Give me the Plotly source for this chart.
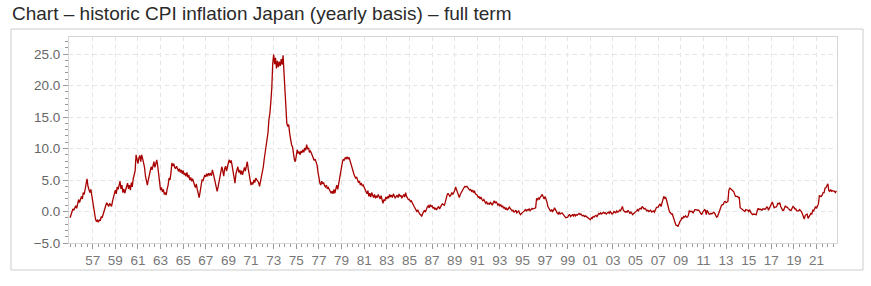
import pandas as pd
import plotly.graph_objects as go

# Monthly CPI inflation Japan (yearly basis), %, starting January 1956
start_month = "1956-01-01"

cpi_1950s = [
    -1.0, -0.6, -0.2, 0.4, 0.2, 0.6, 0.9, 0.5, 1.2, 1.9, 1.4, 2.0,      # 1956
    2.4, 2.0, 3.0, 2.7, 3.8, 4.1, 5.2, 4.0, 3.4, 3.0, 3.5, 2.4,         # 1957
    1.5, 0.6, -0.3, -1.2, -1.6, -1.4, -1.7, -1.3, -1.5, -0.8, -1.0, -0.4,  # 1958
    0.2, 0.6, 1.0, 1.4, 1.1, 0.8, 1.3, 0.9, 0.8, 1.6, 2.2, 3.0,         # 1959
]
cpi_1960s = [
    3.4, 2.8, 3.9, 3.5, 4.4, 4.8, 3.6, 4.2, 3.0, 3.6, 2.9, 3.8,         # 1960
    4.0, 4.5, 3.6, 4.2, 3.4, 4.6, 3.9, 5.2, 6.1, 6.4, 9.0, 8.2,         # 1961
    7.6, 8.5, 8.9, 7.9, 9.0, 8.4, 7.7, 7.0, 5.6, 4.5, 4.2, 5.0,         # 1962
    5.8, 6.6, 7.1, 6.6, 7.4, 7.9, 7.0, 7.6, 8.2, 7.2, 6.1, 5.2,         # 1963
    3.4, 3.8, 3.1, 3.5, 2.7, 3.0, 2.6, 3.6, 4.2, 5.3, 5.0, 6.1,         # 1964
    7.7, 7.2, 7.6, 7.0, 6.8, 7.2, 6.6, 6.4, 6.8, 6.2, 6.6, 6.0,         # 1965
    6.5, 5.8, 6.1, 5.6, 6.2, 5.4, 5.8, 5.0, 5.4, 4.8, 5.2, 4.5,         # 1966
    4.2, 3.8, 4.4, 3.5, 3.0, 2.2, 3.1, 4.2, 5.0, 4.9, 5.6, 5.8,         # 1967
    5.5, 6.0, 5.6, 6.1, 5.8, 6.0, 5.7, 6.6, 6.0, 5.2, 4.6, 3.6,         # 1968
    3.2, 3.9, 4.8, 5.6, 6.4, 7.1, 6.5, 5.6, 6.8, 7.2, 6.4, 7.4,         # 1969
]
cpi_1970s = [
    7.8, 8.2, 7.7, 8.1, 7.2, 6.4, 5.6, 4.5, 6.0, 6.8, 7.1, 6.2,         # 1970
    6.6, 5.9, 6.5, 5.8, 6.7, 7.0, 6.4, 7.2, 7.9, 6.8, 5.9, 5.0,         # 1971
    4.2, 4.6, 4.3, 5.0, 4.6, 5.3, 5.0, 4.8, 4.6, 4.0, 4.7, 5.4,         # 1972
    6.2, 7.1, 8.3, 9.4, 10.8, 11.2, 12.5, 14.6, 15.6, 17.4, 19.6, 23.5,  # 1973
    24.9, 23.4, 24.4, 22.7, 23.9, 22.9, 23.8, 23.1, 24.2, 23.3, 24.8, 22.0,  # 1974
    19.6, 16.5, 14.0, 13.5, 13.8, 12.4, 11.0, 10.6, 10.3, 9.0, 8.2, 7.9,  # 1975
    8.6, 9.8, 9.2, 9.5, 9.0, 9.6, 9.3, 9.8, 9.4, 10.1, 9.7, 10.6,       # 1976
    9.9, 10.1, 9.4, 9.6, 9.3, 8.8, 8.6, 8.1, 8.3, 7.7, 7.4, 6.3,        # 1977
    4.9, 4.5, 4.2, 4.8, 4.4, 4.6, 4.1, 3.9, 4.2, 3.6, 3.8, 3.4,         # 1978
    3.1, 2.9, 3.2, 2.8, 3.5, 2.9, 3.6, 4.2, 3.5, 4.4, 5.2, 6.5,         # 1979
]
cpi_1980s = [
    7.7, 7.9, 8.3, 8.1, 8.6, 8.4, 8.7, 8.3, 8.6, 8.0, 7.6, 7.1,         # 1980
    6.6, 6.0, 5.6, 5.3, 5.5, 4.9, 4.6, 4.8, 4.2, 4.5, 4.1, 4.2,         # 1981
    3.8, 3.5, 3.2, 2.8, 3.3, 2.4, 2.9, 2.3, 3.0, 2.6, 2.2, 2.7,         # 1982
    2.1, 2.5, 2.2, 2.7, 2.4, 2.0, 2.5, 1.8, 1.3, 1.9, 1.7, 2.3,         # 1983
    2.0, 2.4, 2.1, 2.7, 2.3, 2.6, 2.2, 2.8, 2.4, 2.1, 2.4, 2.6,         # 1984
    2.2, 2.8, 2.4, 2.6, 2.1, 2.5, 2.7, 2.3, 3.0, 2.4, 2.0, 1.9,         # 1985
    1.9, 1.6, 1.7, 1.2, 1.1, 0.8, 0.6, 0.3, 0.0, 0.2, -0.2, -0.4,       # 1986
    -0.5, -0.8, -0.4, 0.0, 0.2, -0.1, 0.4, 0.7, 0.9, 0.6, 1.1, 0.8,     # 1987
    0.9, 0.5, 0.7, 0.3, 0.5, 0.3, 0.6, 0.8, 0.4, 0.9, 1.0, 1.2,         # 1988
    1.1, 1.0, 1.4, 2.3, 2.6, 2.9, 2.7, 2.4, 2.6, 3.0, 2.7, 2.9,         # 1989
]
cpi_1990s = [
    3.3, 3.9, 3.5, 3.1, 2.6, 2.2, 2.7, 3.0, 3.3, 3.7, 3.8, 4.0,         # 1990
    3.9, 4.0, 3.7, 3.6, 3.4, 3.5, 3.2, 3.4, 3.0, 3.3, 2.8, 2.7,         # 1991
    2.6, 2.2, 2.4, 2.0, 2.3, 1.9, 1.7, 1.9, 1.6, 1.3, 1.5, 1.2,         # 1992
    1.3, 1.1, 1.5, 1.2, 1.0, 1.4, 1.7, 1.3, 1.6, 1.3, 1.0, 1.2,         # 1993
    0.9, 1.1, 0.7, 0.9, 0.5, 0.7, 0.3, 0.6, 0.2, 0.4, 0.7, 0.5,         # 1994
    0.3, 0.1, 0.2, -0.1, 0.0, 0.2, -0.2, -0.1, 0.1, -0.3, -0.5, -0.3,   # 1995
    -0.2, 0.0, 0.1, 0.3, 0.1, 0.3, 0.2, 0.4, 0.1, 0.3, 0.5, 0.4,        # 1996
    0.5, 0.6, 0.6, 2.1, 1.8, 2.2, 2.0, 2.3, 2.5, 2.7, 2.3, 2.0,         # 1997
    2.4, 2.0, 1.5, 0.8, 0.5, 0.3, 0.0, 0.3, 0.0, 0.2, 0.6, 0.3,         # 1998
    -0.1, -0.3, -0.4, -0.1, -0.4, -0.3, -0.2, -0.4, -0.7, -0.8, -1.0, -1.0,  # 1999
]
cpi_2000s = [
    -0.9, -0.6, -0.5, -0.8, -0.6, -0.5, -0.7, -0.4, -0.7, -0.5, -0.6, -0.4,  # 2000
    -0.3, -0.5, -0.4, -0.6, -0.7, -0.6, -0.8, -0.7, -0.8, -0.9, -1.0, -1.2,  # 2001
    -1.3, -1.0, -1.1, -0.8, -0.9, -0.7, -0.6, -0.8, -0.5, -0.3, -0.4, -0.2,  # 2002
    -0.4, -0.2, -0.1, -0.3, -0.2, -0.4, -0.2, -0.1, -0.3, 0.0, -0.2, -0.4,   # 2003
    -0.3, 0.0, -0.1, -0.2, 0.1, -0.1, 0.0, 0.2, 0.1, 0.5, 0.8, 0.2,          # 2004
    0.1, -0.1, 0.0, -0.1, 0.2, -0.2, -0.3, -0.1, -0.3, -0.5, -0.3, -0.2,     # 2005
    -0.1, 0.1, 0.3, 0.1, 0.4, 0.5, 0.4, 0.8, 0.6, 0.4, 0.5, 0.3,             # 2006
    0.1, 0.2, 0.0, 0.1, 0.2, -0.1, 0.0, 0.1, -0.1, 0.3, 0.6, 0.7,            # 2007
    0.7, 1.0, 1.2, 0.8, 1.3, 2.0, 2.4, 2.1, 2.2, 1.7, 1.1, 0.4,              # 2008
    -0.1, -0.2, -0.4, -0.4, -1.0, -1.3, -1.8, -2.2, -2.2, -2.4, -1.8, -1.6,  # 2009
]
cpi_2010s = [
    -1.4, -1.0, -1.1, -0.8, -0.9, -0.7, -0.9, -0.9, -0.6, 0.1, 0.0, 0.0,  # 2010
    0.0, -0.2, 0.0, 0.3, 0.3, 0.2, 0.2, 0.2, 0.0, -0.2, -0.5, -0.2,       # 2011
    0.1, 0.3, 0.2, -0.5, 0.2, -0.2, -0.4, -0.4, -0.3, -0.4, -0.2, -0.1,   # 2012
    -0.3, -0.7, -0.9, -0.8, -0.3, 0.2, 0.7, 0.9, 1.1, 1.1, 1.5, 1.6,      # 2013
    1.4, 1.5, 1.6, 3.4, 3.7, 3.6, 3.4, 3.3, 3.2, 2.9, 2.4, 2.4,           # 2014
    2.4, 2.2, 2.3, 0.6, 0.5, 0.4, 0.2, 0.2, 0.0, 0.3, 0.3, 0.2,           # 2015
    0.0, 0.3, -0.1, -0.3, -0.5, -0.4, -0.4, -0.5, -0.5, 0.1, 0.5, 0.3,    # 2016
    0.4, 0.3, 0.2, 0.4, 0.4, 0.4, 0.4, 0.7, 0.7, 0.2, 0.6, 1.0,           # 2017
    1.4, 1.5, 1.1, 0.6, 0.7, 0.7, 0.9, 1.3, 1.2, 1.4, 0.8, 0.3,           # 2018
    0.2, 0.2, 0.5, 0.9, 0.7, 0.7, 0.5, 0.3, 0.2, 0.2, 0.5, 0.8,           # 2019
]
cpi_2020s = [
    0.7, 0.4, 0.4, 0.1, 0.1, 0.1, 0.3, 0.2, 0.0, -0.4, -0.9, -1.2,        # 2020
    -0.6, -0.5, -0.4, -1.1, -0.8, -0.5, -0.3, -0.4, 0.2, 0.1, 0.6, 0.8,   # 2021
    0.5, 0.9, 1.2, 2.5, 2.5, 2.4, 2.6, 3.0, 3.0, 3.7, 3.8, 4.0,           # 2022
    4.4, 3.3, 3.2, 3.5, 3.2, 3.3, 3.3, 3.2, 3.0, 3.3,                     # 2023
]

tick_labels = ["57", "59", "61", "63", "65", "67", "69", "71", "73", "75", "77",
               "79", "81", "83", "85", "87", "89", "91", "93", "95", "97", "99",
               "01", "03", "05", "07", "09", "11", "13", "15", "17", "19", "21"]

title_text = "Chart \u2013 historic CPI inflation Japan (yearly basis) \u2013 full term"

values = cpi_1950s + cpi_1960s + cpi_1970s + cpi_1980s + cpi_1990s + cpi_2000s + cpi_2010s + cpi_2020s
dates = pd.date_range(start_month, periods=len(values), freq="MS")


def label_year(lbl):
    v = int(lbl)
    return (1900 + v) if v > 50 else (2000 + v)


# year labels sit at the end of the labelled year
tick_vals = [f"{label_year(l) + 1}-01-01" for l in tick_labels]

W, H = 871, 286
L, R, T, B = 69, 837, 37, 243
pw, ph = R - L, B - T

fig = go.Figure()
fig.add_trace(go.Scatter(
    x=dates, y=values, mode="lines",
    line=dict(color="#a80000", width=1.3),
    hoverinfo="x+y", showlegend=False,
))

font_family = "Liberation Sans, Arial, Helvetica, sans-serif"
grid_color = "#e4e4e4"

fig.update_layout(
    width=W, height=H,
    margin=dict(l=L, r=W - R, t=T, b=H - B, pad=0),
    paper_bgcolor="white", plot_bgcolor="white",
    font=dict(family=font_family, color="#666"),
    showlegend=False,
)

fig.update_xaxes(
    type="date",
    range=["1955-11-27", "2023-10-23"],
    tickmode="array", tickvals=tick_vals, ticktext=tick_labels,
    ticks="outside", ticklen=5, tickcolor="#999", tickwidth=1,
    tickfont=dict(size=13.5, color="#777", family=font_family),
    showgrid=True, gridcolor=grid_color, griddash="4px,4px", gridwidth=1,
    showline=True, linecolor="#d6d6d6", linewidth=1, mirror=True,
    zeroline=False,
    minor=dict(tick0="1958-01-01", dtick="M6", ticks="outside", ticklen=3,
               tickcolor="#999", showgrid=False),
)

fig.update_yaxes(
    range=[-5, 27.7],
    tickmode="linear", tick0=-5, dtick=5, tickformat=".1f",
    ticks="outside", ticklen=5, tickcolor="#999", tickwidth=1,
    tickfont=dict(size=13.5, color="#666", family=font_family),
    showgrid=True, gridcolor=grid_color, griddash="4px,4px", gridwidth=1,
    showline=True, linecolor="#d6d6d6", linewidth=1, mirror=True,
    zeroline=False,
    minor=dict(dtick=1, ticks="outside", ticklen=3, tickcolor="#999", showgrid=False),
)


def px_x(p):
    return (p - L) / pw


def px_y(p):
    return (B - p) / ph


# outer framing box
fig.add_shape(type="rect", xref="paper", yref="paper",
              x0=px_x(11), x1=px_x(863), y0=px_y(270), y1=px_y(29),
              line=dict(color="#cccccc", width=1), fillcolor="rgba(0,0,0,0)",
              layer="below")

fig.add_annotation(
    text=title_text, xref="paper", yref="paper",
    x=px_x(10), y=px_y(13.5), xanchor="left", yanchor="middle",
    showarrow=False, font=dict(size=19, color="#2a2a2a", family=font_family),
)

fig.write_html("out.html")
